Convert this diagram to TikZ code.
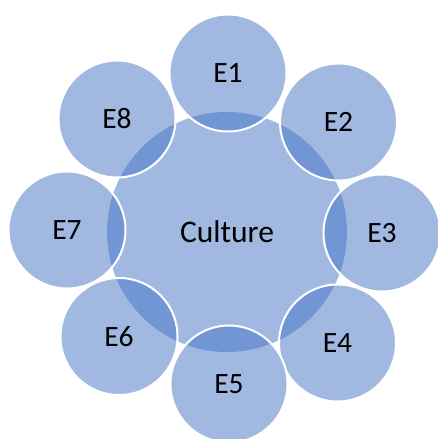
\documentclass[tikz,border=0pt]{standalone}
\usepackage{fontspec}
\setmainfont{Carlito}
\usepackage{tikz}
\usetikzlibrary{shapes}
\definecolor{ringblue}{HTML}{4472C4}

\tikzset{
	core/.style={circle,inner sep=0pt,minimum size=240pt,
		fill=ringblue,fill opacity=0.5,text opacity=1,font=\fontsize{31.5}{35}\selectfont},
	element/.style={circle,inner sep=0pt,minimum size=117pt,line width=2pt,
		fill=ringblue,fill opacity=0.5,draw=white,draw opacity=1,text opacity=1,
		font=\fontsize{29.5}{33}\selectfont}
}

\begin{document}
\begin{tikzpicture}[x=1pt,y=-1pt]
		\useasboundingbox (0,0) rectangle (437,439);
		%
		\node[core] (C) at (227,232) {Culture};
		%
		\node[element] (E1) at (228,73) {E1};
		\node[element] (E2) at (338.5,122) {E2};
		\node[element] (E3) at (382,233) {E3};
		\node[element] (E4) at (337.5,343) {E4};
		\node[element] (E5) at (229,384) {E5};
		\node[element] (E6) at (119,336.5) {E6};
		\node[element] (E7) at (67,230) {E7};
		\node[element] (E8) at (117,119) {E8};
	\end{tikzpicture}
\end{document}
